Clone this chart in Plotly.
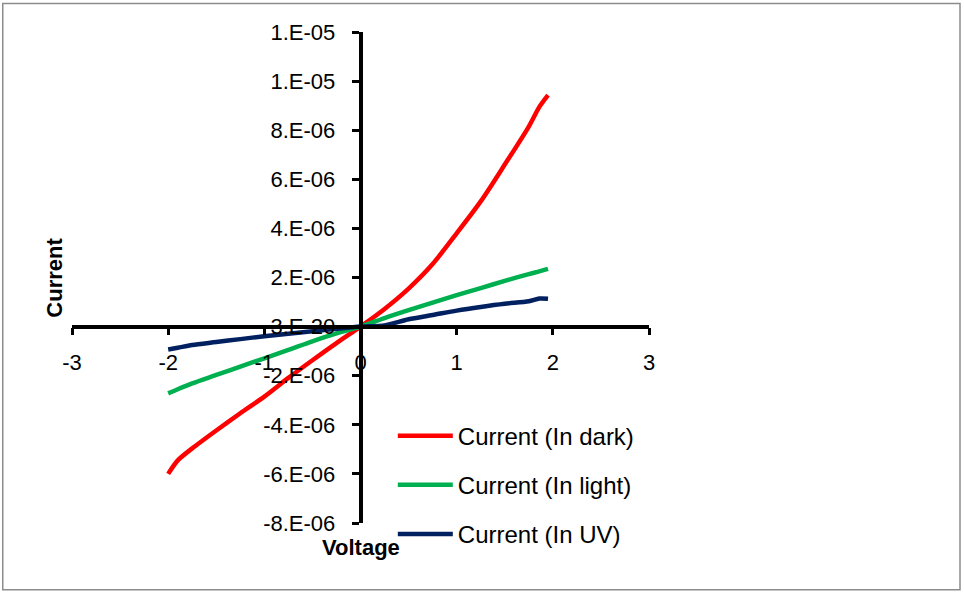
import plotly.graph_objects as go

# ---- data ----
voltage = [-2.0, -1.9, -1.75, -1.5, -1.25, -1.0, -0.75, -0.5, -0.25, 0.0,
           0.25, 0.5, 0.75, 1.0, 1.25, 1.5, 1.75, 1.86, 1.95]

current_dark = [-6.0e-6, -5.45e-6, -4.96e-6, -4.23e-6, -3.53e-6, -2.85e-6, -2.09e-6, -1.37e-6, -0.67e-6, 0.0,
                0.72e-6, 1.55e-6, 2.55e-6, 3.8e-6, 5.1e-6, 6.6e-6, 8.15e-6, 8.95e-6, 9.43e-6]
current_light = [-2.72e-6, -2.55e-6, -2.31e-6, -1.97e-6, -1.63e-6, -1.29e-6, -0.95e-6, -0.60e-6, -0.28e-6, 0.0,
                 0.35e-6, 0.67e-6, 0.98e-6, 1.28e-6, 1.57e-6, 1.86e-6, 2.14e-6, 2.25e-6, 2.35e-6]
current_uv = [-0.93e-6, -0.86e-6, -0.75e-6, -0.63e-6, -0.51e-6, -0.39e-6, -0.29e-6, -0.19e-6, -0.09e-6, 0.0,
              0.05e-6, 0.30e-6, 0.47e-6, 0.65e-6, 0.80e-6, 0.93e-6, 1.03e-6, 1.14e-6, 1.13e-6]

series_names = ["Current (In dark)", "Current (In light)", "Current (In UV)"]
series_colors = ["#FF0000", "#00B050", "#002060"]

x_tickvals = [-3, -2, -1, 0, 1, 2, 3]
x_ticktext = ["-3", "-2", "-1", "0", "1", "2", "3"]
y_tickvals = [-8e-6, -6e-6, -4e-6, -2e-6, 0, 2e-6, 4e-6, 6e-6, 8e-6, 1e-5, 1.2e-5]
y_ticktext = ["-8.E-06", "-6.E-06", "-4.E-06", "-2.E-06", "3.E-20", "2.E-06",
              "4.E-06", "6.E-06", "8.E-06", "1.E-05", "1.E-05"]

FONT = "Liberation Sans, Arial, sans-serif"

fig = go.Figure()
for i, (name, ys, col) in enumerate(zip(series_names, [current_dark, current_light, current_uv], series_colors)):
    fig.add_trace(go.Scatter(
        x=voltage, y=ys, mode="lines", name=name, legendgroup=f"g{i}",
        line=dict(color=col, width=4.5, shape="spline", smoothing=0.8),
    ))

fig.update_layout(
    width=964, height=594,
    margin=dict(l=72, r=315, t=32, b=71),
    paper_bgcolor="white", plot_bgcolor="white",
    font=dict(family=FONT, size=22, color="black"),
    showlegend=True,
    legend=dict(
        x=0.556, y=0.0773, xanchor="left", yanchor="middle",
        bgcolor="rgba(0,0,0,0)", font=dict(size=24),
        tracegroupgap=15, itemwidth=55, traceorder="grouped",
    ),
    xaxis=dict(
        range=[-3, 3], anchor="free", position=0.4,
        tickvals=x_tickvals, ticktext=x_ticktext,
        showline=True, linecolor="black", linewidth=3.5,
        ticks="outside", ticklen=7, tickwidth=3, tickcolor="black",
        ticklabelstandoff=8,
        showgrid=False, zeroline=False,
    ),
    yaxis=dict(
        range=[-8e-6, 1.2e-5], anchor="free", position=0.5,
        tickvals=y_tickvals, ticktext=y_ticktext,
        showline=True, linecolor="black", linewidth=3.5,
        ticks="outside", ticklen=7, tickwidth=3, tickcolor="black",
        ticklabelstandoff=12,
        showgrid=False, zeroline=False,
    ),
    shapes=[dict(type="rect", xref="paper", yref="paper",
                 x0=-0.120, x1=1.539, y0=-0.136, y1=1.058,
                 line=dict(color="#8c8c8c", width=1.5), layer="below")],
    annotations=[
        dict(text="<b>Current</b>", xref="paper", yref="paper", x=-0.030, y=0.499,
             xanchor="center", yanchor="middle",
             textangle=-90, showarrow=False, font=dict(size=22)),
        dict(text="<b>Voltage</b>", xref="paper", yref="paper", x=0.5, y=-0.049,
             xanchor="center", yanchor="middle",
             showarrow=False, font=dict(size=22)),
    ],
)

fig.write_html("out.html")
